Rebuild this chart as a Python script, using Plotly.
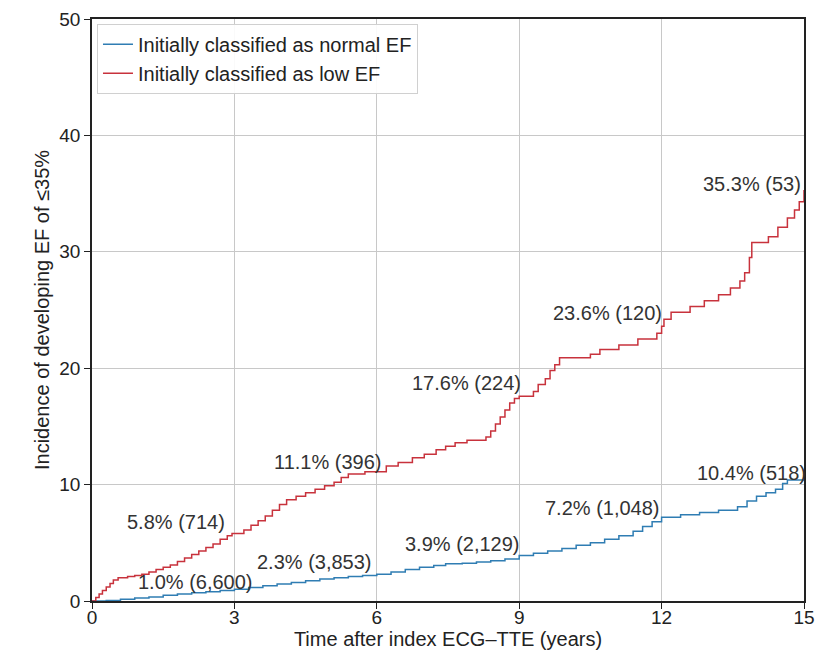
import plotly.graph_objects as go

# Cumulative incidence (%) of developing EF <=35%, step curves by follow-up time (years)
low_ef_time = [0, 0.08, 0.15, 0.22, 0.3, 0.38, 0.45, 0.55, 0.75, 0.9, 1.05, 1.2, 1.35, 1.5,
               1.65, 1.8, 1.95, 2.1, 2.25, 2.4, 2.55, 2.7, 2.85, 2.95, 3.2, 3.35, 3.5, 3.65,
               3.8, 3.95, 4.1, 4.3, 4.5, 4.7, 4.9, 5.1, 5.25, 5.4, 5.75, 6.2, 6.45, 6.75,
               7.0, 7.25, 7.45, 7.65, 7.9, 8.3, 8.4, 8.5, 8.6, 8.7, 8.8, 8.9, 9.0, 9.3,
               9.4, 9.55, 9.65, 9.75, 9.85, 10.5, 10.7, 11.1, 11.5, 11.9, 12.0, 12.05,
               12.2, 12.6, 12.9, 13.2, 13.45, 13.65, 13.75, 13.85, 13.9, 14.25, 14.45,
               14.65, 14.8, 14.9, 15.0]
low_ef_inc = [0, 0.3, 0.6, 0.9, 1.2, 1.5, 1.8, 2.0, 2.1, 2.2, 2.3, 2.5, 2.7, 2.9,
              3.1, 3.4, 3.7, 4.0, 4.3, 4.6, 4.9, 5.3, 5.6, 5.8, 6.1, 6.5, 6.9, 7.3,
              7.8, 8.3, 8.7, 9.0, 9.3, 9.6, 9.9, 10.2, 10.6, 10.9, 11.1, 11.6, 11.9, 12.3,
              12.6, 13.0, 13.3, 13.6, 13.8, 14.1, 14.6, 15.2, 15.8, 16.4, 17.0, 17.4, 17.6, 18.0,
              18.6, 19.1, 19.8, 20.3, 20.9, 21.2, 21.6, 22.0, 22.5, 23.0, 23.6, 24.2,
              24.8, 25.3, 25.8, 26.3, 26.9, 27.5, 28.2, 29.5, 30.8, 31.3, 32.1,
              32.9, 33.6, 34.3, 35.3]

normal_ef_time = [0, 0.3, 0.6, 0.9, 1.2, 1.5, 1.8, 2.1, 2.4, 2.7, 3.0, 3.3, 3.6, 3.9,
                  4.2, 4.5, 4.8, 5.1, 5.4, 5.7, 6.0, 6.3, 6.6, 6.9, 7.2, 7.45, 7.8, 8.1,
                  8.4, 8.7, 9.0, 9.3, 9.6, 9.9, 10.2, 10.5, 10.8, 11.1, 11.4, 11.6, 11.8,
                  12.0, 12.4, 12.8, 13.2, 13.6, 13.8, 14.0, 14.2, 14.4, 14.55, 14.65, 15.0]
normal_ef_inc = [0, 0.05, 0.15, 0.25, 0.35, 0.5, 0.6, 0.7, 0.8, 0.9, 1.0, 1.15, 1.3, 1.45,
                 1.6, 1.75, 1.9, 2.0, 2.1, 2.2, 2.3, 2.5, 2.7, 2.9, 3.05, 3.2, 3.25, 3.35,
                 3.45, 3.6, 3.9, 4.1, 4.3, 4.5, 4.8, 5.0, 5.3, 5.6, 6.0, 6.4, 6.8,
                 7.2, 7.4, 7.6, 7.8, 8.1, 8.6, 9.0, 9.3, 9.6, 10.1, 10.4, 10.4]

# Landmark labels: incidence % (number at risk)
normal_labels = ["1.0% (6,600)", "2.3% (3,853)", "3.9% (2,129)", "7.2% (1,048)", "10.4% (518)"]
normal_label_x = [2.18, 4.69, 7.8, 10.75, 13.9]
normal_label_y = [1.63, 3.35, 4.9, 8.0, 11.0]

low_labels = ["5.8% (714)", "11.1% (396)", "17.6% (224)", "23.6% (120)", "35.3% (53)"]
low_label_x = [1.78, 4.96, 7.88, 10.85, 13.9]
low_label_y = [6.8, 11.9, 18.7, 24.7, 35.85]

x_ticks = [0, 3, 6, 9, 12, 15]
y_ticks = [0, 10, 20, 30, 40, 50]

BLUE = "#2f7db3"
RED = "#c8323c"
FONT = "Liberation Sans, Arial"

fig = go.Figure()
fig.add_trace(go.Scatter(x=normal_ef_time, y=normal_ef_inc, mode="lines",
                         line=dict(color=BLUE, width=1.5, shape="hv"),
                         name="Initially classified as normal EF"))
fig.add_trace(go.Scatter(x=low_ef_time, y=low_ef_inc, mode="lines",
                         line=dict(color=RED, width=1.5, shape="hv"),
                         name="Initially classified as low EF"))

for txt, x, y in zip(normal_labels + low_labels, normal_label_x + low_label_x,
                     normal_label_y + low_label_y):
    fig.add_annotation(x=x, y=y, text=txt, showarrow=False,
                       font=dict(size=20, color="#333333", family=FONT))

axis_common = dict(showline=True, linecolor="#222222", linewidth=1.5, mirror=True,
                   showgrid=True, gridcolor="#c8c8c8", gridwidth=1,
                   ticks="outside", ticklen=6, tickcolor="#222222", zeroline=False,
                   tickfont=dict(size=19, color="#222222"))

fig.update_xaxes(range=[0, 15], tickvals=x_ticks, ticklabelstandoff=-8,
                 title=dict(text="Time after index ECG\u2013TTE (years)", standoff=0,
                            font=dict(size=20, color="#222222")),
                 **axis_common)
fig.update_yaxes(range=[0, 50], tickvals=y_ticks,
                 title=dict(text="Incidence of developing EF of \u226435%", standoff=4,
                            font=dict(size=20, color="#222222")),
                 **axis_common)

fig.update_layout(
    width=824, height=667,
    margin=dict(l=92, r=9, t=18, b=66),
    plot_bgcolor="white", paper_bgcolor="white",
    font=dict(family=FONT, color="#222222"),
    showlegend=True,
    legend=dict(x=0.007, y=0.992, xanchor="left", yanchor="top",
                bgcolor="rgba(255,255,255,0.9)", bordercolor="#d0d0d0", borderwidth=1,
                font=dict(size=20, color="#222222"), itemwidth=30, tracegroupgap=0),
)

fig.write_html("out.html")
